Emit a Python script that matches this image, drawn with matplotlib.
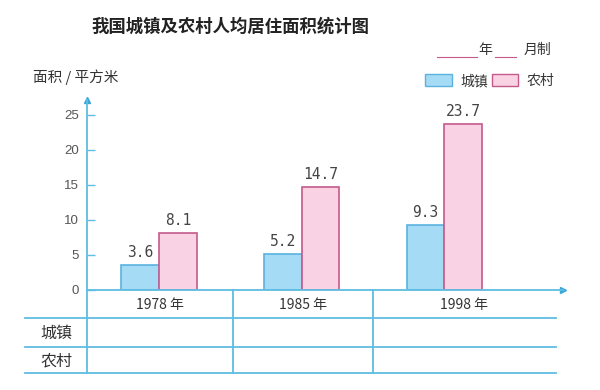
import matplotlib
matplotlib.use("Agg")
import matplotlib.pyplot as plt
from matplotlib.patches import Patch
from matplotlib.lines import Line2D

plt.rcParams['font.family'] = ['Noto Sans CJK SC', 'DejaVu Sans']

years = ["1978 年", "1985 年", "1998 年"]
urban = [3.6, 5.2, 9.3]      # 城镇
rural = [8.1, 14.7, 23.7]    # 农村
yticks = [0, 5, 10, 15, 20, 25]

line_c = "#5fbde3"
blue_fill, blue_edge = "#a6dbf5", "#5ab2df"
pink_fill, pink_edge = "#f9d3e3", "#c45a8c"
txt_c = "#444444"

W, H = 600, 390
fig = plt.figure(figsize=(6, 3.9), dpi=100)
# axes placed in pixel units of the reference
ax = fig.add_axes([87 / W, (H - 290) / H, (563 - 87) / W, (290 - 100) / H])

x = list(range(len(years)))
bw = 0.265
ax.bar([i - bw / 2 for i in x], urban, bw, color=blue_fill, edgecolor=blue_edge, lw=1.2)
ax.bar([i + bw / 2 for i in x], rural, bw, color=pink_fill, edgecolor=pink_edge, lw=1.2)

for i in x:
    ax.text(i - bw / 2, urban[i] + 0.7, f"{urban[i]}", ha="center", va="bottom",
            family="DejaVu Sans Mono", fontsize=10.5, color=txt_c)
    ax.text(i + bw / 2, rural[i] + 0.7, f"{rural[i]}", ha="center", va="bottom",
            family="DejaVu Sans Mono", fontsize=10.5, color=txt_c)

ax.set_xlim(-0.503, 2.83)
ax.set_ylim(0, 27.1)
ax.set_yticks(yticks)
ax.set_yticklabels([str(t) for t in yticks], family="Liberation Sans", fontsize=9.5, color="#555555")
ax.tick_params(axis="y", direction="in", length=6, color=line_c, width=1, pad=6)
ax.set_xticks([])
for s in ["top", "right"]:
    ax.spines[s].set_visible(False)
for s in ["left", "bottom"]:
    ax.spines[s].set_color(line_c)
    ax.spines[s].set_linewidth(1.3)
ax.plot(1, 0, ">", color="#3aa6d6", ms=5, transform=ax.transAxes, clip_on=False)
ax.plot(0, 1, "^", color="#3aa6d6", ms=5, transform=ax.transAxes, clip_on=False)

# table below the axis (data units: 7 px per unit, 143 px per group)
y_rows = [-4.0, -8.15, -11.9]
x_left, x_right = -0.94, 2.78
bounds = [-0.503, 0.517, 1.5]
for yr in y_rows:
    ax.plot([x_left, x_right], [yr, yr], color=line_c, lw=1.3, clip_on=False)
for b in bounds:
    ax.plot([b, b], [0, y_rows[-1]], color=line_c, lw=1.3, clip_on=False)
for i, lab in enumerate(years):
    cx = (bounds[i] + (bounds[i + 1] if i + 1 < len(bounds) else x_right)) / 2
    ax.text(cx, -2.1, lab, ha="center", va="center", fontsize=10, color="#333333")
ax.text(-0.72, -6.2, "城镇", ha="center", va="center", fontsize=11.5, color="#333333")
ax.text(-0.72, -10.1, "农村", ha="center", va="center", fontsize=11.5, color="#333333")

# title and labels
fig.text(230 / W, 1 - 27 / H, "我国城镇及农村人均居住面积统计图", ha="center", va="center",
         fontsize=12.5, fontweight="bold", color="#222222")
fig.text(33 / W, 1 - 77 / H, "面积 / 平方米", ha="left", va="center", fontsize=10.5, color="#333333")

# "____年__月制"
fig.add_artist(Line2D([437 / W, 477 / W], [1 - 57 / H] * 2, color=pink_edge, lw=0.8))
fig.add_artist(Line2D([495 / W, 516 / W], [1 - 57 / H] * 2, color=pink_edge, lw=0.8))
fig.text(485 / W, 1 - 50 / H, "年", ha="center", va="center", fontsize=10, color="#333333")
fig.text(537 / W, 1 - 50 / H, "月制", ha="center", va="center", fontsize=10, color="#333333")

handles = [Patch(facecolor=blue_fill, edgecolor=blue_edge, label="城镇"),
           Patch(facecolor=pink_fill, edgecolor=pink_edge, label="农村")]
fig.legend(handles=handles, loc="center", bbox_to_anchor=(490 / W, 1 - 81 / H), ncol=2,
           frameon=False, fontsize=10, handlelength=1.9, handleheight=1.0,
           handletextpad=0.6, columnspacing=0.3, labelcolor="#333333")

fig.savefig("out.png", dpi=100, facecolor="white")
